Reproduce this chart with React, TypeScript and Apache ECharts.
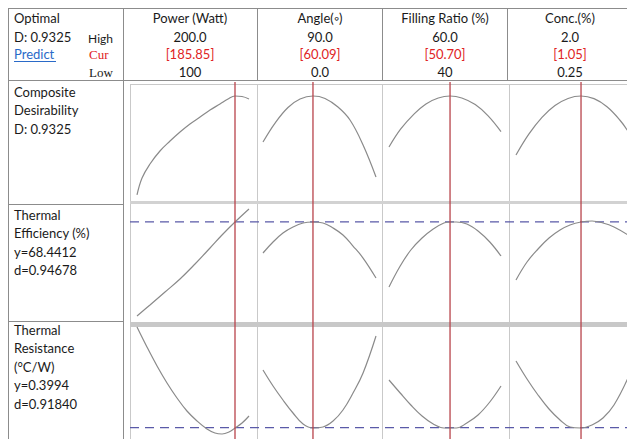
import React, { useEffect, useRef } from "react";
import * as echarts from "echarts";

// ---- header data ----
const factors = ["Power (Watt)", "Angle(◦)", "Filling Ratio (%)", "Conc.(%)"];
const highLabels = ["200.0", "90.0", "60.0", "2.0"];
const curLabels = ["[185.85]", "[60.09]", "[50.70]", "[1.05]"];
const lowLabels = ["100", "0.0", "40", "0.25"];
const lowVals = [100, 0, 40, 0.25];
const highVals = [200, 90, 60, 2.0];
// position at which the picture draws the red (current setting) line
const markerAt = [187.5, 39.8, 50.9, 1.266];

// ---- response rows ----
const rowLabels = [
  ["Composite", "Desirability", "D: 0.9325"],
  ["Thermal", "Efficiency (%)", "y=68.4412", "d=0.94678"],
  ["Thermal", "Resistance", "(°C/W)", "y=0.3994", "d=0.91840"],
];
const rowRanges = [
  [0, 1],
  [45, 72.5],
  [0.39, 0.5],
];
const optimumY = [null, 68.4412, 0.3994];

// Composite desirability
const desPower = [[100, 0.078], [104.5, 0.224], [111.6, 0.345], [120.5, 0.457], [129.5, 0.543], [138.4, 0.621], [147.3, 0.69], [156.3, 0.75], [165.2, 0.81], [174.1, 0.862], [181.3, 0.905], [187.5, 0.931], [193.8, 0.927], [200, 0.905]];
const desAngle = [[0, 0.534], [9.6, 0.698], [19.9, 0.832], [29.5, 0.905], [39.8, 0.931], [49.4, 0.91], [59.7, 0.836], [69.3, 0.724], [79.7, 0.509], [90, 0.233]];
const desFill = [[40, 0.491], [42.1, 0.647], [44.5, 0.777], [46.6, 0.863], [48.8, 0.914], [50.9, 0.931], [53.0, 0.914], [55.4, 0.857], [57.7, 0.76], [60, 0.624]];
const desConc = [[0.25, 0.422], [0.453, 0.604], [0.656, 0.747], [0.859, 0.849], [1.063, 0.91], [1.266, 0.931], [1.469, 0.908], [1.672, 0.838], [1.875, 0.722], [2.0, 0.627]];

// Thermal efficiency
const effPower = [[100, 45.96], [111.6, 48.59], [125, 51.69], [138.4, 54.8], [151.8, 58.39], [165.2, 62.22], [175.9, 65.32], [187.5, 68.43], [200, 71.54]];
const effAngle = [[0, 61.02], [8.0, 63.65], [15.9, 65.8], [23.9, 67.24], [31.9, 68.19], [39.8, 68.43], [47.8, 68.19], [55.8, 67.0], [63.7, 65.32], [71.7, 62.69], [79.7, 59.82], [90, 55.04]];
const effFill = [[40, 52.89], [42.0, 57.91], [43.9, 61.74], [45.9, 64.61], [47.9, 66.76], [49.8, 68.19], [50.9, 68.43], [52.0, 68.43], [53.9, 67.95], [55.9, 66.28], [58.0, 63.65], [60, 60.3]];
const effConc = [[0.25, 54.56], [0.422, 58.87], [0.594, 61.98], [0.766, 64.61], [0.938, 66.52], [1.094, 67.71], [1.266, 68.43], [1.438, 68.67], [1.609, 68.19], [1.781, 67.24], [2.0, 65.32]];

// Thermal resistance
const resPower = [[100, 0.5], [108.9, 0.48], [117.9, 0.461], [126.8, 0.444], [135.7, 0.429], [144.6, 0.416], [153.6, 0.406], [162.5, 0.398], [169.6, 0.394], [175.9, 0.393], [182.1, 0.395], [187.5, 0.399], [193.8, 0.404], [200, 0.411]];
const resAngle = [[0, 0.457], [8.0, 0.441], [15.9, 0.427], [23.9, 0.414], [31.9, 0.403], [39.8, 0.399], [47.8, 0.4], [55.8, 0.406], [63.7, 0.417], [71.7, 0.434], [79.7, 0.454], [90, 0.491]];
const resFill = [[40, 0.447], [42.0, 0.434], [43.9, 0.422], [45.9, 0.411], [47.9, 0.403], [49.8, 0.399], [50.9, 0.399], [52.0, 0.399], [53.9, 0.404], [55.9, 0.412], [58.0, 0.425], [60, 0.441]];
const resConc = [[0.25, 0.466], [0.422, 0.448], [0.594, 0.432], [0.766, 0.418], [0.938, 0.407], [1.094, 0.4], [1.266, 0.399], [1.438, 0.402], [1.609, 0.409], [1.781, 0.422], [2.0, 0.449]];

const curves = [
  [desPower, desAngle, desFill, desConc],
  [effPower, effAngle, effFill, effConc],
  [resPower, resAngle, resFill, resConc],
];

// ---- layout (pixels) ----
const colLeft = [137, 263, 389, 516];
const colWidth = [112, 113, 112, 112];
const colCenter = [190, 320, 445, 570];
const rowTop = [88, 205, 327];
const rowHeight = [116, 115, 110];
const rowLabelY = [92, 215, 330];

const SANS = "Lato, 'Noto Sans', sans-serif";
const SERIF = "'Liberation Serif', 'DejaVu Serif', serif";

function buildOption() {
  const grid: any[] = [];
  const xAxis: any[] = [];
  const yAxis: any[] = [];
  const series: any[] = [];
  const addGrid = (g: any, xa: any, ya: any) => {
    const i = grid.length;
    grid.push({ ...g, outerBoundsMode: "none", containLabel: false });
    xAxis.push({ type: "value", gridIndex: i, show: false, ...xa });
    yAxis.push({ type: "value", gridIndex: i, show: false, ...ya });
    return i;
  };

  // response curves
  for (let r = 0; r < 3; r++) {
    for (let c = 0; c < 4; c++) {
      const gi = addGrid(
        { left: colLeft[c], width: colWidth[c], top: rowTop[r], height: rowHeight[r] },
        { min: lowVals[c], max: highVals[c] },
        { min: rowRanges[r][0], max: rowRanges[r][1] }
      );
      series.push({
        type: "line",
        xAxisIndex: gi,
        yAxisIndex: gi,
        data: curves[r][c],
        smooth: 0.4,
        showSymbol: false,
        clip: false,
        lineStyle: { color: "#8a8a8a", width: 1.2 },
        z: 3,
      });
    }
  }

  // optimum (dashed) lines across each row
  for (let r = 1; r < 3; r++) {
    const gi = addGrid(
      { left: 130, right: 0, top: rowTop[r], height: rowHeight[r] },
      { min: 0, max: 1 },
      { min: rowRanges[r][0], max: rowRanges[r][1] }
    );
    series.push({
      type: "line",
      xAxisIndex: gi,
      yAxisIndex: gi,
      data: [[0, optimumY[r]], [1, optimumY[r]]],
      showSymbol: false,
      lineStyle: { color: "#5a5aa8", width: 1.3, type: [9, 6] },
      z: 2,
    });
  }

  // current-setting red lines down each column
  for (let c = 0; c < 4; c++) {
    const gi = addGrid(
      { left: colLeft[c], width: colWidth[c], top: 82, height: 357 },
      { min: lowVals[c], max: highVals[c] },
      { min: 0, max: 1 }
    );
    series.push({
      type: "line",
      xAxisIndex: gi,
      yAxisIndex: gi,
      data: [[markerAt[c], 0], [markerAt[c], 1]],
      showSymbol: false,
      lineStyle: { color: "#b8434b", width: 1.3 },
      z: 4,
    });
  }

  const dark = "#8c8c8c";
  const light = "#c9c9c9";
  const line = (x1: number, y1: number, x2: number, y2: number, stroke: string) => ({
    type: "line",
    shape: { x1, y1, x2, y2 },
    style: { stroke, lineWidth: 1 },
    silent: true,
    z: 0,
  });
  const text = (t: string, x: number, y: number, opts: any = {}) => ({
    type: "text",
    x,
    y,
    style: {
      text: t,
      fill: opts.fill || "#1a1a1a",
      font: opts.font || `13px ${SANS}`,
      textAlign: opts.align || "left",
      textVerticalAlign: "middle",
    },
    silent: true,
    z: 5,
  });

  const graphic: any[] = [
    // table frame
    line(8, 8.5, 627, 8.5, dark),
    line(8.5, 8, 8.5, 439, dark),
    line(8, 80.5, 627, 80.5, dark),
    line(123.5, 8, 123.5, 439, dark),
    line(257.5, 8, 257.5, 80, dark),
    line(382.5, 8, 382.5, 80, dark),
    line(507.5, 8, 507.5, 80, dark),
    line(8, 204.5, 123, 204.5, dark),
    line(8, 321.5, 123, 321.5, dark),
    // plot area frame
    line(130.5, 84, 130.5, 439, light),
    line(130, 84.5, 627, 84.5, light),
    line(257.5, 84, 257.5, 439, light),
    line(382.5, 84, 382.5, 439, light),
    line(509.5, 84, 509.5, 439, light),
    { type: "rect", shape: { x: 130, y: 201, width: 497, height: 3 }, style: { fill: "#d2d2d2" }, silent: true, z: 0 },
    { type: "rect", shape: { x: 130, y: 322, width: 497, height: 5 }, style: { fill: "#c8c8c8" }, silent: true, z: 0 },
    // header left
    text("Optimal", 14, 18),
    text("D: 0.9325", 14, 37),
    text("Predict", 14, 54, { fill: "#2a6ac8" }),
    line(14, 61.5, 56, 61.5, "#2a6ac8"),
    text("High", 113, 38, { font: `12px ${SANS}`, align: "right" }),
    text("Cur", 89, 54, { fill: "#e02424", font: `13px ${SERIF}` }),
    text("Low", 89, 72, { font: `13px ${SERIF}` }),
  ];
  for (let c = 0; c < 4; c++) {
    graphic.push(text(factors[c], colCenter[c], 18, { align: "center" }));
    graphic.push(text(highLabels[c], colCenter[c], 37, { align: "center" }));
    graphic.push(text(curLabels[c], colCenter[c], 54, { align: "center", fill: "#e02424" }));
    graphic.push(text(lowLabels[c], colCenter[c], 72, { align: "center" }));
  }
  for (let r = 0; r < 3; r++) {
    rowLabels[r].forEach((t, i) => {
      graphic.push(text(t, 14, rowLabelY[r] + i * 18.4));
    });
  }

  return {
    animation: false,
    backgroundColor: "#ffffff",
    grid,
    xAxis,
    yAxis,
    series,
    graphic,
  };
}

export default function App() {
  const ref = useRef<HTMLDivElement>(null);
  useEffect(() => {
    if (!ref.current) return;
    const chart = echarts.init(ref.current, null, { renderer: "svg" });
    chart.setOption(buildOption() as any);
    return () => chart.dispose();
  }, []);
  return (
    <div
      ref={ref}
      style={{ position: "absolute", left: 0, top: 0, width: 627, height: 439, background: "#fff" }}
    />
  );
}
